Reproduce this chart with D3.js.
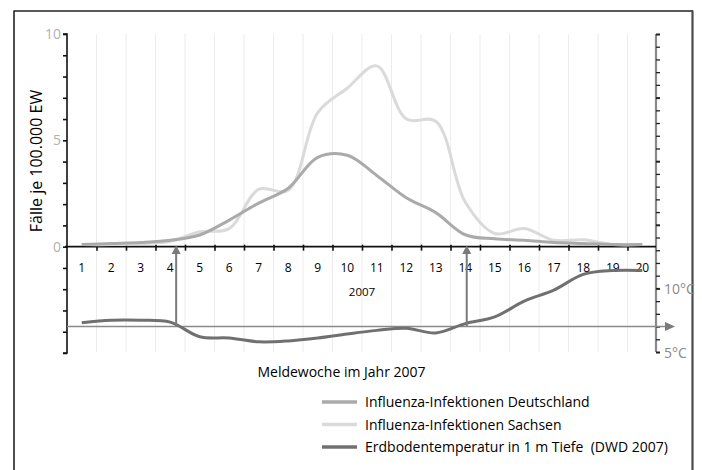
<!DOCTYPE html>
<html><head><meta charset="utf-8">
<script src="https://cdn.jsdelivr.net/npm/d3@7"></script>
<style>body{margin:0;background:#fff}svg{display:block}</style>
</head><body><svg id="c" width="702" height="470"></svg>
<script>
// ---- data ----
const weeks = d3.range(1, 21);
const weekLabels = weeks.map(String);
const deutschland = [0.1, 0.15, 0.2, 0.3, 0.55, 1.25, 2.05, 2.75, 4.2, 4.3, 3.35, 2.3, 1.6, 0.56, 0.37, 0.3, 0.2, 0.15, 0.1, 0.1];
const sachsen     = [0.1, 0.1, 0.15, 0.25, 0.7, 0.85, 2.7, 2.65, 6.3, 7.45, 8.5, 6.0, 5.9, 2.1, 0.62, 0.85, 0.3, 0.32, 0.1, 0.1];
const temperatur  = [7.3, 7.5, 7.5, 7.35, 6.2, 6.1, 5.8, 5.87, 6.1, 6.42, 6.7, 6.87, 6.5, 7.23, 7.76, 9.0, 9.86, 11.1, 11.4, 11.4];
const leftTickLabels = [0, 5, 10];
const rightTickLabels = [5, 10];
const arrowWeeks = [4.2, 14.05];
const refTemp = 7;
const yearLabel = "2007";
const xTitle = "Meldewoche im Jahr 2007";
const yTitle = "Fälle je 100.000 EW";
const legendNames = ["Influenza-Infektionen Deutschland", "Influenza-Infektionen Sachsen", "Erdbodentemperatur in 1 m Tiefe  (DWD 2007)"];
const colors = ["#aaaaaa", "#dadada", "#707070"];

// ---- scales ----
const svg = d3.select("#c");
const font = "'Open Sans', 'Noto Sans', sans-serif";
const x = d3.scaleLinear().domain([0, 20]).range([67, 657]);
const xc = w => x(w - 0.5);
const yL = d3.scaleLinear().domain([-5, 10]).range([353, 34]);
const yR = d3.scaleLinear().domain([5, 30]).range([352, 34]);

// frame
svg.append("line").attr("x1", 14).attr("x2", 14).attr("y1", 10.5).attr("y2", 470).attr("stroke", "#222").attr("stroke-width", 1.6);
svg.append("line").attr("x1", 14).attr("x2", 693).attr("y1", 11).attr("y2", 11).attr("stroke", "#222").attr("stroke-width", 1.6);
svg.append("line").attr("x1", 692.5).attr("x2", 692.5).attr("y1", 10.5).attr("y2", 470).attr("stroke", "#4a4a4a").attr("stroke-width", 2.2);

// grid
svg.append("g").selectAll("line").data(d3.range(1, 20)).join("line")
  .attr("x1", d => x(d)).attr("x2", d => x(d)).attr("y1", yL(10)).attr("y2", 352)
  .attr("stroke", "#ececec").attr("stroke-width", 1);

// left axis
const gL = svg.append("g").attr("transform", `translate(${x(0)},0)`)
  .call(d3.axisLeft(yL).tickValues(d3.range(-5, 11)).tickSize(4).tickFormat(""));
gL.select(".domain").attr("stroke", "#111").attr("stroke-width", 1.6).attr("d", `M-4,${yL(10)}H0V${yL(-5)}H-4`);
gL.selectAll(".tick line").attr("stroke", "#111").attr("stroke-width", 1.6);
svg.append("g").selectAll("text").data(leftTickLabels).join("text")
  .attr("x", 61).attr("y", d => yL(d) + 5).attr("text-anchor", "end")
  .attr("font-family", font).attr("font-size", 14).attr("fill", "#b0b0b0").text(d => d);

// right axis
const gR = svg.append("g").attr("transform", `translate(656,0)`)
  .call(d3.axisRight(yR).tickValues(d3.range(5, 31)).tickSize(4).tickFormat(""));
gR.select(".domain").attr("stroke", "#8a8a8a").attr("stroke-width", 2.2).attr("d", `M0,${yR(30)}V${yR(5)}`);
gR.selectAll(".tick line").attr("stroke", "#222").attr("stroke-width", d => d % 5 === 0 ? 2 : 1.3);
svg.append("g").selectAll("text").data(rightTickLabels).join("text")
  .attr("x", 664).attr("y", d => yR(d) + 6).attr("font-family", font).attr("font-size", 14)
  .attr("fill", "#8a8a8a").text(d => d + "°C");

// x axis
const gX = svg.append("g").attr("transform", `translate(0,${yL(0)})`)
  .call(d3.axisBottom(x).tickValues(d3.range(1, 20)).tickSize(4).tickFormat(""));
gX.select(".domain").attr("stroke", "#111").attr("stroke-width", 1.6).attr("d", `M${x(0) - 2},0H${x(20) - 1}`);
gX.selectAll(".tick line").attr("stroke", "#111").attr("stroke-width", 1.6).attr("y1", -2);
svg.append("g").selectAll("text").data(weeks).join("text")
  .attr("x", d => xc(d)).attr("y", 272).attr("text-anchor", "middle")
  .attr("font-family", font).attr("font-size", 12).attr("fill", "#000").text((d, i) => weekLabels[i]);
svg.append("text").attr("x", x(10)).attr("y", 296).attr("text-anchor", "middle")
  .attr("font-family", font).attr("font-size", 11.5).attr("fill", "#000").text(yearLabel);

// lines
const lineL = d3.line().x((d, i) => xc(weeks[i])).y(d => yL(d)).curve(d3.curveCatmullRom.alpha(0.5));
const lineR = d3.line().x((d, i) => xc(weeks[i])).y(d => yR(d)).curve(d3.curveCatmullRom.alpha(0.5));
svg.append("path").datum(sachsen).attr("d", lineL).attr("fill", "none").attr("stroke", colors[1]).attr("stroke-width", 3);
svg.append("path").datum(deutschland).attr("d", lineL).attr("fill", "none").attr("stroke", colors[0]).attr("stroke-width", 3);

// reference arrow line (7°C)
const arrowCol = "#7a7a7a";
svg.append("line").attr("x1", x(0)).attr("x2", 665).attr("y1", yR(refTemp)).attr("y2", yR(refTemp))
  .attr("stroke", "#8a8a8a").attr("stroke-width", 1.6);
svg.append("path").attr("d", `M665,${yR(refTemp) - 4.5}L675,${yR(refTemp)}L665,${yR(refTemp) + 4.5}Z`).attr("fill", arrowCol);

svg.append("path").datum(temperatur).attr("d", lineR).attr("fill", "none").attr("stroke", colors[2]).attr("stroke-width", 3);

// vertical arrows
arrowWeeks.forEach(w => {
  const ax = xc(w);
  svg.append("line").attr("x1", ax).attr("x2", ax).attr("y1", yR(refTemp)).attr("y2", 254)
    .attr("stroke", arrowCol).attr("stroke-width", 2);
  svg.append("path").attr("d", `M${ax - 4.5},254L${ax},${yL(0) - 1.5}L${ax + 4.5},254Z`).attr("fill", arrowCol);
});

// titles
svg.append("text").attr("transform", `translate(42,161) rotate(-90)`).attr("text-anchor", "middle")
  .attr("font-family", font).attr("font-size", 16).attr("fill", "#000").text(yTitle);
svg.append("text").attr("x", 341.5).attr("y", 377).attr("text-anchor", "middle")
  .attr("font-family", font).attr("font-size", 14).attr("fill", "#000").text(xTitle);

// legend
const lg = svg.append("g");
legendNames.forEach((n, i) => {
  const cy = 402 + i * 22.5;
  lg.append("line").attr("x1", 322).attr("x2", 357).attr("y1", cy).attr("y2", cy)
    .attr("stroke", colors[i]).attr("stroke-width", 3.5);
  lg.append("text").attr("x", 365).attr("y", cy + 5).attr("font-family", font).attr("font-size", 14)
    .attr("fill", "#000").attr("xml:space", "preserve").style("white-space", "pre").text(n);
});
</script></body></html>
